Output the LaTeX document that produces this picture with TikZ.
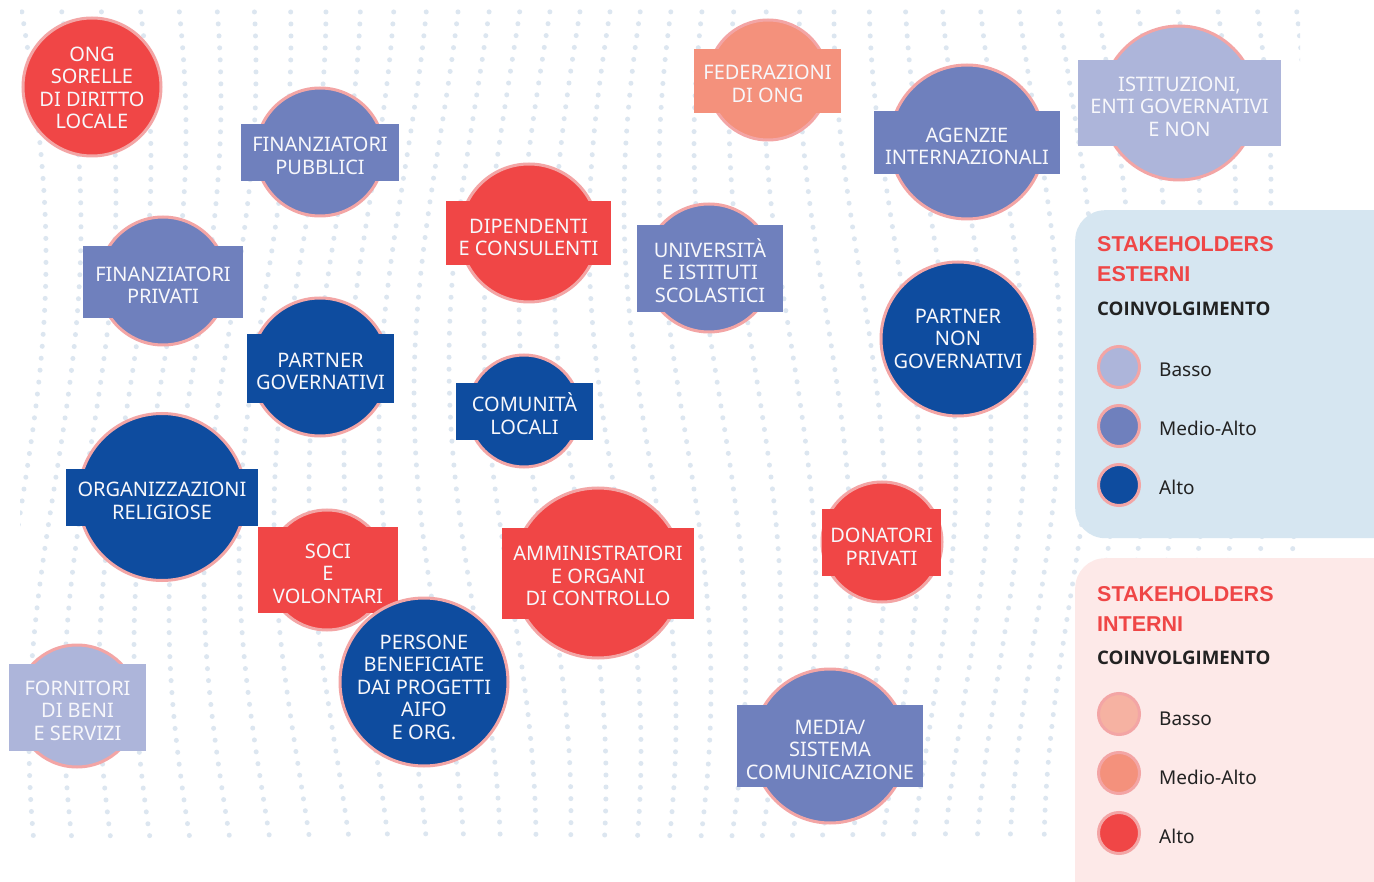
\documentclass[tikz,border=0pt]{standalone}
\usepackage{fontspec}
\setmainfont{Noto Sans}
\newfontfamily\headfont{Liberation Sans}
\newfontfamily\semifont{Open Sans}
\definecolor{alto}{HTML}{0E4C9F}
\definecolor{medio}{HTML}{6F80BD}
\definecolor{basso}{HTML}{ADB5DA}
\definecolor{ialto}{HTML}{F04646}
\definecolor{imedio}{HTML}{F4917C}
\definecolor{ibasso}{HTML}{F6B2A2}
\definecolor{ring}{HTML}{F3A5A5}
\definecolor{dotc}{HTML}{DCE6F0}
\definecolor{panelE}{HTML}{D6E6F1}
\definecolor{panelI}{HTML}{FDE9E8}
\definecolor{titred}{HTML}{EF4646}
\definecolor{ink}{HTML}{222222}
\definecolor{txtw}{HTML}{F7F7FB}
\tikzset{
  disc/.style={circle, draw=ring, line width=3pt, inner sep=0pt},
  tag/.style={rectangle, inner sep=0pt},
  txt/.style={text=txtw, align=center, inner sep=0pt, font=\fontsize{20}{22.5}\selectfont},
  dotline/.style={draw=dotc, line width=5pt, line cap=round, dash pattern=on 0pt off 12pt},
  panel/.style={rectangle, rounded corners=30pt, inner sep=0pt, anchor=north west},
  legtitle/.style={text=titred, font=\headfont\bfseries\fontsize{21.5}{24}\selectfont, inner sep=0pt, anchor=base west},
  leghead/.style={text=ink, font=\semifont\bfseries\fontsize{18.7}{22}\selectfont, inner sep=0pt, anchor=base west},
  leglab/.style={text=ink, font=\fontsize{19}{22}\selectfont, inner sep=0pt, anchor=base west},
  legdot/.style={circle, draw=ring, line width=3pt, inner sep=0pt, minimum size=41pt},
}
\begin{document}
\begin{tikzpicture}[x=1pt,y=-1pt]
\useasboundingbox (0,0) rectangle (1374,882);
\fill[white] (0,0) rectangle (1374,882);
% background dots
\begin{scope}
\clip (20,10) rectangle (1300,842);
\foreach \k [evaluate=\k as \xo using 20+35*\k] in {0,...,37}{
  \draw[dotline] plot[variable=\t, domain=0:860, samples=50, smooth] ({\xo+26*sin(0.35*\t+11*\k)}, \t);
}
\end{scope}
% legend panels
\node[panel, fill=panelE, minimum width=345pt, minimum height=328pt] (pe) at (1075,210) {};
\node[panel, fill=panelI, minimum width=345pt, minimum height=360pt] (pi) at (1075,558) {};
% stakeholders
\node[disc, fill=ialto, minimum size=138pt] (ong) at (92,87) {};
\node[txt] (ong-x) at (92,88) {ONG\\SORELLE\\DI DIRITTO\\LOCALE};

\node[disc, fill=medio, minimum size=128pt] (fpub) at (320,152) {};
\node[tag, fill=medio, minimum width=158pt, minimum height=57pt] (fpub-t) at (320,152.5) {};
\node[txt] (fpub-x) at (320,156) {FINANZIATORI\\PUBBLICI};

\node[disc, fill=medio, minimum size=128pt] (fpriv) at (163,281) {};
\node[tag, fill=medio, minimum width=160pt, minimum height=72pt] (fpriv-t) at (163,282) {};
\node[txt] (fpriv-x) at (163,285.5) {FINANZIATORI\\PRIVATI};

\node[disc, fill=alto, minimum size=138pt] (pgov) at (320,367) {};
\node[tag, fill=alto, minimum width=147pt, minimum height=69pt] (pgov-t) at (320.5,368.5) {};
\node[txt] (pgov-x) at (320.5,371.5) {PARTNER\\GOVERNATIVI};

\node[disc, fill=alto, minimum size=167pt] (orel) at (162,497) {};
\node[tag, fill=alto, minimum width=192pt, minimum height=57pt] (orel-t) at (162,497.5) {};
\node[txt] (orel-x) at (162,501) {ORGANIZZAZIONI\\RELIGIOSE};

\node[disc, fill=ialto, minimum size=120pt] (soci) at (327,570) {};
\node[tag, fill=ialto, minimum width=140pt, minimum height=86pt] (soci-t) at (328,570) {};
\node[txt] (soci-x) at (328,573.5) {SOCI\\E\\VOLONTARI};

\node[disc, fill=alto, minimum size=168pt] (pers) at (424,682) {};
\node[txt] (pers-x) at (424,687) {PERSONE\\BENEFICIATE\\DAI PROGETTI\\AIFO\\E ORG.};

\node[disc, fill=ialto, minimum size=138pt] (dip) at (529,233) {};
\node[tag, fill=ialto, minimum width=165pt, minimum height=64pt] (dip-t) at (528.5,233) {};
\node[txt] (dip-x) at (528.5,237.5) {DIPENDENTI\\E CONSULENTI};

\node[disc, fill=medio, minimum size=128pt] (univ) at (709,268) {};
\node[tag, fill=medio, minimum width=146pt, minimum height=87pt] (univ-t) at (710,268.5) {};
\node[txt] (univ-x) at (710,270.5) {UNIVERSITÀ\\E ISTITUTI\\SCOLASTICI};

\node[disc, fill=alto, minimum size=112pt] (com) at (524,411) {};
\node[tag, fill=alto, minimum width=137pt, minimum height=57pt] (com-t) at (524.5,411.5) {};
\node[txt] (com-x) at (524.5,413.5) {COMUNITÀ\\LOCALI};

\node[disc, fill=imedio, minimum size=120pt] (fed) at (768,80) {};
\node[tag, fill=imedio, minimum width=147pt, minimum height=64pt] (fed-t) at (767.5,81) {};
\node[txt] (fed-x) at (767.5,84) {FEDERAZIONI\\DI ONG};

\node[disc, fill=medio, minimum size=154pt] (age) at (967,142) {};
\node[tag, fill=medio, minimum width=186pt, minimum height=63pt] (age-t) at (967,142.5) {};
\node[txt] (age-x) at (967,146.5) {AGENZIE\\INTERNAZIONALI};

\node[disc, fill=basso, minimum size=154pt] (ist) at (1179,103) {};
\node[tag, fill=basso, minimum width=203pt, minimum height=86pt] (ist-t) at (1179.5,103) {};
\node[txt] (ist-x) at (1179.5,106.5) {ISTITUZIONI,\\ENTI GOVERNATIVI\\E NON};

\node[disc, fill=alto, minimum size=154pt] (png) at (958,339) {};
\node[txt] (png-x) at (958,338.5) {PARTNER\\NON\\GOVERNATIVI};

\node[disc, fill=ialto, minimum size=120pt] (don) at (882,542) {};
\node[tag, fill=ialto, minimum width=119pt, minimum height=67pt] (don-t) at (881.5,542.5) {};
\node[txt] (don-x) at (881.5,546.5) {DONATORI\\PRIVATI};

\node[disc, fill=ialto, minimum size=170pt] (amm) at (598,573) {};
\node[tag, fill=ialto, minimum width=192pt, minimum height=91pt] (amm-t) at (598,573.5) {};
\node[txt] (amm-x) at (598,576) {AMMINISTRATORI\\E ORGANI\\DI CONTROLLO};

\node[disc, fill=medio, minimum size=154pt] (med) at (830,746) {};
\node[tag, fill=medio, minimum width=186pt, minimum height=82pt] (med-t) at (830,746) {};
\node[txt] (med-x) at (830,749.5) {MEDIA/\\SISTEMA\\COMUNICAZIONE};

\node[disc, fill=basso, minimum size=122pt] (forn) at (77,706) {};
\node[tag, fill=basso, minimum width=137pt, minimum height=87pt] (forn-t) at (77.5,707.5) {};
\node[txt] (forn-x) at (77.5,710.5) {FORNITORI\\DI BENI\\E SERVIZI};

% legend esterni
\node[legtitle] (pe-t1) at (1097,252) {STAKEHOLDERS};
\node[legtitle] (pe-t2) at (1097,282) {ESTERNI};
\node[leghead] (pe-h) at (1097,316) {COINVOLGIMENTO};
\node[legdot, fill=basso] (pe-d1) at (1119,367) {};
\node[legdot, fill=medio] (pe-d2) at (1119,426) {};
\node[legdot, fill=alto] (pe-d3) at (1119,485) {};
\node[leglab] (pe-l1) at (1159,377) {Basso};
\node[leglab] (pe-l2) at (1159,436) {Medio-Alto};
\node[leglab] (pe-l3) at (1159,494) {Alto};
% legend interni
\node[legtitle] (pi-t1) at (1097,601) {STAKEHOLDERS};
\node[legtitle] (pi-t2) at (1097,631) {INTERNI};
\node[leghead] (pi-h) at (1097,664) {COINVOLGIMENTO};
\node[legdot, fill=ibasso] (pi-d1) at (1119,714) {};
\node[legdot, fill=imedio] (pi-d2) at (1119,773) {};
\node[legdot, fill=ialto] (pi-d3) at (1119,833) {};
\node[leglab] (pi-l1) at (1159,725) {Basso};
\node[leglab] (pi-l2) at (1159,784) {Medio-Alto};
\node[leglab] (pi-l3) at (1159,843) {Alto};
\end{tikzpicture}
\end{document}
